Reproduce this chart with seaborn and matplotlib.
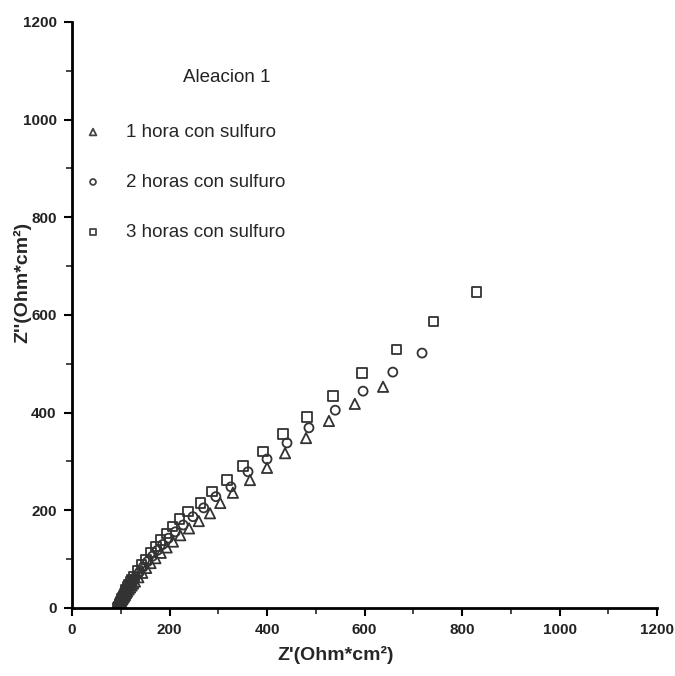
import matplotlib
matplotlib.use("Agg")
import matplotlib.pyplot as plt
import seaborn as sns
import pandas as pd
from matplotlib import font_manager

# ---- data ----
series_names = ["1 hora con sulfuro", "2 horas con sulfuro", "3 horas con sulfuro"]

x_1h = [638, 580, 527, 480, 437, 400, 365, 330, 304, 283, 260, 240, 222, 207, 194,
        182, 171, 161, 152, 144, 136, 129, 122, 116, 111, 107, 103, 100, 98, 96, 95,
        125, 119, 113, 109, 105, 101, 99, 97, 95, 94]
y_1h = [453, 418, 383, 348, 317, 287, 262, 236, 215, 194, 178, 163, 149, 136, 124,
        113, 102, 92, 82, 72, 63, 54, 46, 38, 31, 24, 18, 12, 8, 4, 2,
        50, 42, 34, 27, 21, 15, 10, 6, 3, 1]

x_2h = [718, 658, 597, 540, 486, 441, 400, 361, 326, 295, 270, 248, 228, 212, 198,
        186, 175, 165, 155, 146, 138, 130, 123, 117, 112, 108, 104, 101, 99, 97, 96,
        127, 120, 114, 110, 106, 102, 100, 98, 96, 95]
y_2h = [522, 483, 444, 405, 369, 338, 305, 279, 248, 228, 205, 187, 170, 156, 143,
        130, 118, 106, 95, 84, 73, 63, 53, 44, 36, 28, 21, 15, 10, 6, 3,
        58, 48, 40, 32, 25, 18, 12, 8, 4, 1]

x_3h = [829, 742, 665, 595, 535, 482, 433, 392, 351, 318, 287, 263, 238, 220, 206,
        194, 182, 172, 162, 152, 143, 135, 127, 120, 114, 109, 105, 102, 100, 98, 97, 96,
        123, 117, 111, 107, 103, 101, 99, 97, 95, 94]
y_3h = [647, 586, 530, 481, 434, 391, 356, 320, 291, 262, 238, 215, 197, 182, 167,
        153, 139, 126, 113, 100, 88, 76, 64, 53, 43, 34, 26, 19, 13, 8, 4, 2,
        58, 48, 38, 30, 22, 16, 11, 6, 3, 1]

x_ticks = [0, 200, 400, 600, 800, 1000, 1200]
y_ticks = [0, 200, 400, 600, 800, 1000, 1200]
legend_title = "Aleacion 1"
x_label = "Z'(Ohm*cm²)"
y_label = "Z''(Ohm*cm²)"

df = pd.concat([
    pd.DataFrame({"x": x_1h, "y": y_1h, "serie": series_names[0]}),
    pd.DataFrame({"x": x_2h, "y": y_2h, "serie": series_names[1]}),
    pd.DataFrame({"x": x_3h, "y": y_3h, "serie": series_names[2]}),
])

sns.set_style("ticks")
names = {f.name for f in font_manager.fontManager.ttflist}
fam = [f for f in ["Liberation Sans Narrow", "Liberation Sans", "DejaVu Sans"] if f in names]
plt.rcParams["font.family"] = fam

fig = plt.figure(figsize=(6.75, 6.76), dpi=100)
ax = fig.add_axes([0.1067, 0.1006, 0.8667, 0.8669])

markers = {series_names[0]: "^", series_names[1]: "o", series_names[2]: "s"}
sizes = {series_names[0]: 55, series_names[1]: 42, series_names[2]: 45}
for name in series_names:
    sub = df[df["serie"] == name]
    sns.scatterplot(data=sub, x="x", y="y", marker=markers[name], s=sizes[name],
                    facecolor="none", edgecolor="#333333", linewidth=1.3,
                    label=name, ax=ax, zorder=3)

ax.set_xlim(0, 1200)
ax.set_ylim(0, 1200)
ax.set_xticks(x_ticks)
ax.set_yticks(y_ticks)
ax.set_xticks(range(100, 1200, 200), minor=True)
ax.set_yticks(range(100, 1200, 200), minor=True)
ax.tick_params(axis="both", which="major", direction="out", length=6, width=1.5,
               labelsize=11, colors="black", pad=5)
ax.tick_params(axis="both", which="minor", direction="out", length=4, width=1.2)
for lab in ax.get_xticklabels() + ax.get_yticklabels():
    lab.set_fontweight("bold")
    lab.set_color("#222222")

sns.despine(ax=ax)
for sp in ["left", "bottom"]:
    ax.spines[sp].set_linewidth(2.0)
    ax.spines[sp].set_color("black")
ax.spines["bottom"].set_zorder(5)

ax.set_xlabel(x_label, fontsize=14, fontweight="bold")
ax.set_ylabel(y_label, fontsize=14, fontweight="bold")
ax.xaxis.set_label_coords(0.45, -0.065)
ax.yaxis.set_label_coords(-0.07, 0.555)

leg = ax.legend(loc="upper left", bbox_to_anchor=(-0.017, 0.855), frameon=False,
                fontsize=13.5, markerscale=0.65, labelspacing=1.75,
                handletextpad=1.0, handlelength=1.5)
for h in leg.legend_handles:
    h.set_facecolor("none")
    h.set_edgecolor("#444444")
ax.text(0.265, 0.905, legend_title, transform=ax.transAxes, fontsize=13.5,
        ha="center", va="center", color="#222222")

fig.savefig("out.png", dpi=100)
